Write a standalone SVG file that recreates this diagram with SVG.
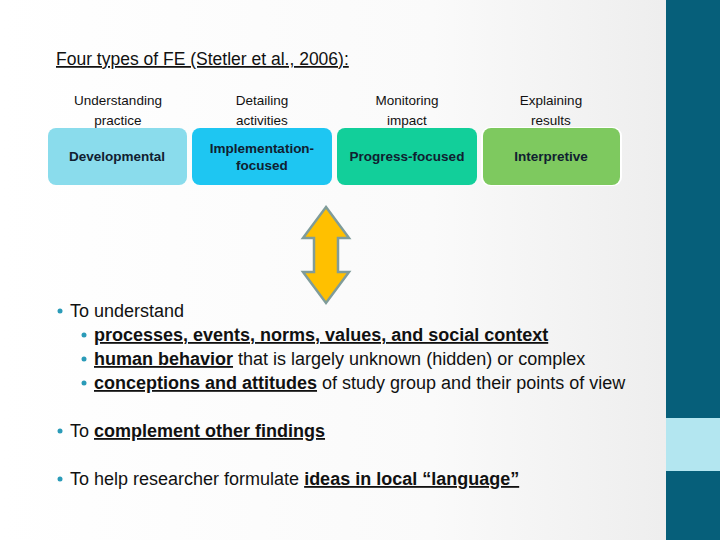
<svg xmlns="http://www.w3.org/2000/svg" width="720" height="540" viewBox="0 0 720 540">
<defs>
<linearGradient id="bg" x1="0" y1="0" x2="1" y2="0"><stop offset="0" stop-color="#ffffff"/><stop offset="0.6" stop-color="#fafafa"/><stop offset="1" stop-color="#ebebeb"/></linearGradient>
</defs>
<style>
text{font-family:"Liberation Sans",Arial,sans-serif;fill:#111}
.h{font-size:13.5px;text-anchor:middle}
.b{font-size:13.5px;font-weight:bold;text-anchor:middle;fill:#102030}
.t{font-size:18px}
.u{text-decoration:underline;font-weight:bold}
.dot{fill:#2a9bb8}
</style>
<rect width="720" height="540" fill="url(#bg)"/>
<rect x="666" y="0" width="54" height="540" fill="#065f7a"/>
<rect x="666" y="418" width="54" height="53" fill="#b3e6f0"/>
<text x="56" y="65" style="font-size:17.5px;text-decoration:underline">Four types of FE (Stetler et al., 2006):</text>
<g id="n1"><text x="118" y="105" class="h">Understanding</text><text x="118" y="125" class="h">practice</text><rect x="48" y="128" width="139" height="57" rx="8" fill="#8adcec"/><text x="117" y="161" class="b">Developmental</text></g>
<g id="n2"><text x="262" y="105" class="h">Detailing</text><text x="262" y="125" class="h">activities</text><rect x="192" y="128" width="140" height="57" rx="8" fill="#1ec6f2"/><text x="262" y="153" class="b">Implementation-</text><text x="262" y="170" class="b">focused</text></g>
<g id="n3"><text x="407" y="105" class="h">Monitoring</text><text x="407" y="125" class="h">impact</text><rect x="337" y="128" width="140" height="57" rx="8" fill="#12cf9a"/><text x="407" y="161" class="b">Progress-focused</text></g>
<g id="n4"><text x="551" y="105" class="h">Explaining</text><text x="551" y="125" class="h">results</text><rect x="481" y="127" width="141" height="59" rx="9" fill="#fff"/><rect x="483" y="128" width="137" height="57" rx="8" fill="#7ec95f"/><text x="551" y="161" class="b">Interpretive</text></g>
<g id="connectors"><polygon points="326,207 349,238 338,238 338,272 349,272 326,303 303,272 314,272 314,238 303,238" fill="#ffc000" stroke="#7f9c9a" stroke-width="2.5" stroke-linejoin="miter"/></g>
<g class="t">
<circle cx="60" cy="311" r="2.5" class="dot"/><text x="70" y="317">To understand</text>
<circle cx="84" cy="335" r="2.5" class="dot"/><text x="94" y="341"><tspan class="u">processes, events, norms, values, and social context</tspan></text>
<circle cx="84" cy="359" r="2.5" class="dot"/><text x="94" y="365"><tspan class="u">human behavior</tspan> that is largely unknown (hidden) or complex</text>
<circle cx="84" cy="383" r="2.5" class="dot"/><text x="94" y="389"><tspan class="u">conceptions and attitudes</tspan> of study group and their points of view</text>
<circle cx="60" cy="431" r="2.5" class="dot"/><text x="70" y="437">To <tspan class="u">complement other findings</tspan></text>
<circle cx="60" cy="479" r="2.5" class="dot"/><text x="70" y="485">To help researcher formulate <tspan class="u">ideas in local “language”</tspan></text>
</g>
</svg>
